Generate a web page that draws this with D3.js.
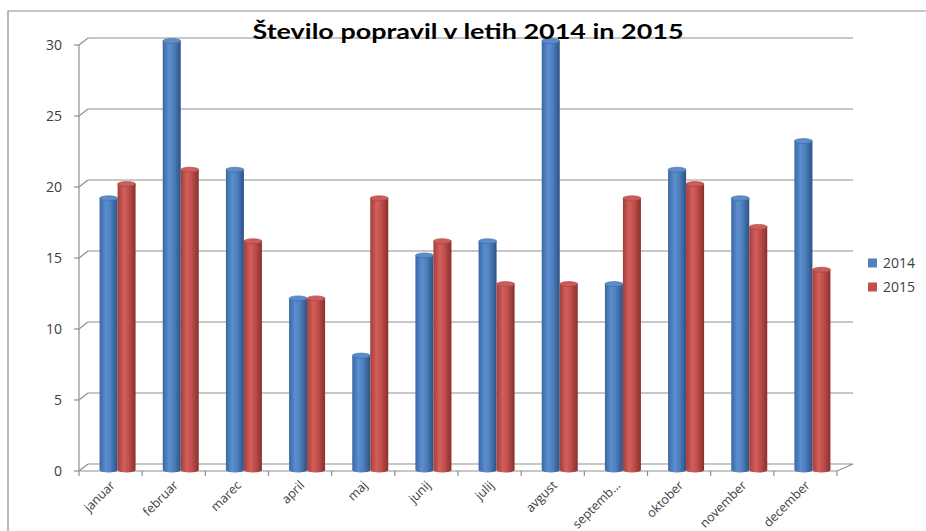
<!DOCTYPE html>
<html><head><meta charset="utf-8">
<script src="https://cdn.jsdelivr.net/npm/d3@7"></script>
<style>body{margin:0;background:#fff}svg{display:block}</style>
</head><body>
<script>
const months = ["januar","februar","marec","april","maj","junij","julij","avgust","septemb…","oktober","november","december"];
const series = ["2014","2015"];
const values2014 = [19,30,21,12,8,15,16,30,13,21,19,23];
const values2015 = [20,21,16,12,19,16,13,13,19,20,17,14];
const yTicks = [0,5,10,15,20,25,30];
const title = "Število popravil v letih 2014 in 2015";

const W = 926, H = 531;
const svg = d3.select("body").append("svg").attr("width", W).attr("height", H);
const defs = svg.append("defs");
function grad(id, stops){
  const g = defs.append("linearGradient").attr("id", id).attr("x1","0").attr("x2","1").attr("y1","0").attr("y2","0");
  stops.forEach(([o,c]) => g.append("stop").attr("offset", o).attr("stop-color", c));
}
grad("gBlue", [[0,"#3a67a3"],[0.35,"#5b8ed0"],[0.6,"#4f81bd"],[1,"#2c5286"]]);
grad("gRed", [[0,"#a43d3a"],[0.35,"#d35f5b"],[0.6,"#c0504d"],[1,"#8a2f2c"]]);
const fills = {"2014":"url(#gBlue)","2015":"url(#gRed)"};
const topFill = {"2014":"#5d8cc8","2015":"#cc5d5a"};
const legendCol = {"2014":"#4f81bd","2015":"#c0504d"};

// frame
svg.append("path").attr("d","M8,531 V11 H926").attr("fill","none").attr("stroke","#8c8c8c").attr("stroke-width",1.2);

const dx = 9;
const x0 = 79, x1 = 837;
const yFront = d3.scaleLinear().domain([0,30]).range([471,45]);
const yBack = d3.scaleLinear().domain([0,30]).range([464,38]);
const yBar = d3.scaleLinear().domain([0,30]).range([470,41]);
const x = d3.scaleBand().domain(months).range([x0,x1]).padding(0);

const grid = svg.append("g").attr("stroke","#8f8f8f").attr("stroke-width",1.2).attr("fill","none");
yTicks.forEach(t => {
  if (t > 0) grid.append("line").attr("x1",x0+dx).attr("x2",853).attr("y1",yBack(t)).attr("y2",yBack(t));
  grid.append("line").attr("x1",x0).attr("x2",x0+dx).attr("y1",yFront(t)).attr("y2",yBack(t));
  grid.append("line").attr("x1",x0-5).attr("x2",x0).attr("y1",yFront(t)).attr("y2",yFront(t));
});
// floor
grid.append("path").attr("d",`M${x0+dx},${yBack(0)} H853 L${x1},${yFront(0)} H${x0}`);
grid.append("line").attr("x1",x0).attr("x2",x0).attr("y1",yFront(30)).attr("y2",yFront(0));
months.forEach(m=>{
  const xx = x(m);
  grid.append("line").attr("x1",xx).attr("x2",xx).attr("y1",yFront(0)).attr("y2",yFront(0)+5);
});
grid.append("line").attr("x1",x1).attr("x2",x1).attr("y1",yFront(0)).attr("y2",yFront(0)+5);

// y labels
svg.append("g").selectAll("text").data(yTicks).join("text")
  .attr("x",62).attr("y",d=>yFront(d)).attr("dy","0.35em").attr("text-anchor","end")
  .attr("font-family","Open Sans, sans-serif").attr("font-size",14).attr("fill","#404040").text(d=>d);

// bars
const sub = d3.scaleBand().domain(series).range([0,36]);
const bw = sub.bandwidth();
const data = months.map((m,i)=>({m, v:{"2014":values2014[i],"2015":values2015[i]}}));
const bars = svg.append("g");
data.forEach(d=>{
  const cx = x(d.m) + x.bandwidth()/2 - 11;
  series.forEach(s=>{
    const left = cx + sub(s);
    const top = yBar(d.v[s]), bot = yBar(0);
    const ry = 2.5;
    bars.append("path")
      .attr("d",`M${left},${top} V${bot} A${bw/2},${ry} 0 0 0 ${left+bw},${bot} V${top} Z`)
      .attr("fill",fills[s]);
    bars.append("ellipse").attr("cx",left+bw/2).attr("cy",top).attr("rx",bw/2).attr("ry",ry).attr("fill",topFill[s])
      .attr("stroke", s==="2014"?"#3d6aa5":"#a5403d").attr("stroke-width",0.6);
  });
});

// x labels
svg.append("g").selectAll("text").data(months).join("text")
  .attr("transform",d=>`translate(${x(d)+x.bandwidth()/2+2},${483}) rotate(-45)`)
  .attr("text-anchor","end").attr("dy","0.35em")
  .attr("font-family","Open Sans, sans-serif").attr("font-size",12.5).attr("fill","#404040").text(d=>d);

// title
svg.append("text").attr("x",468).attr("y",39).attr("text-anchor","middle")
  .attr("font-family","Lato, Open Sans, sans-serif").attr("font-weight","bold").attr("font-size",21)
  .attr("textLength",431).attr("lengthAdjust","spacingAndGlyphs").attr("fill","#000").text(title);

// legend
const lg = svg.append("g");
series.forEach((s,i)=>{
  const yy = 263 + i*24;
  lg.append("rect").attr("x",868).attr("y",yy-4.5).attr("width",9).attr("height",9).attr("fill",legendCol[s]);
  lg.append("text").attr("x",883).attr("y",yy).attr("dy","0.35em").attr("font-family","Open Sans, sans-serif")
    .attr("font-size",14).attr("fill","#404040").text(s);
});
</script>
</body></html>
